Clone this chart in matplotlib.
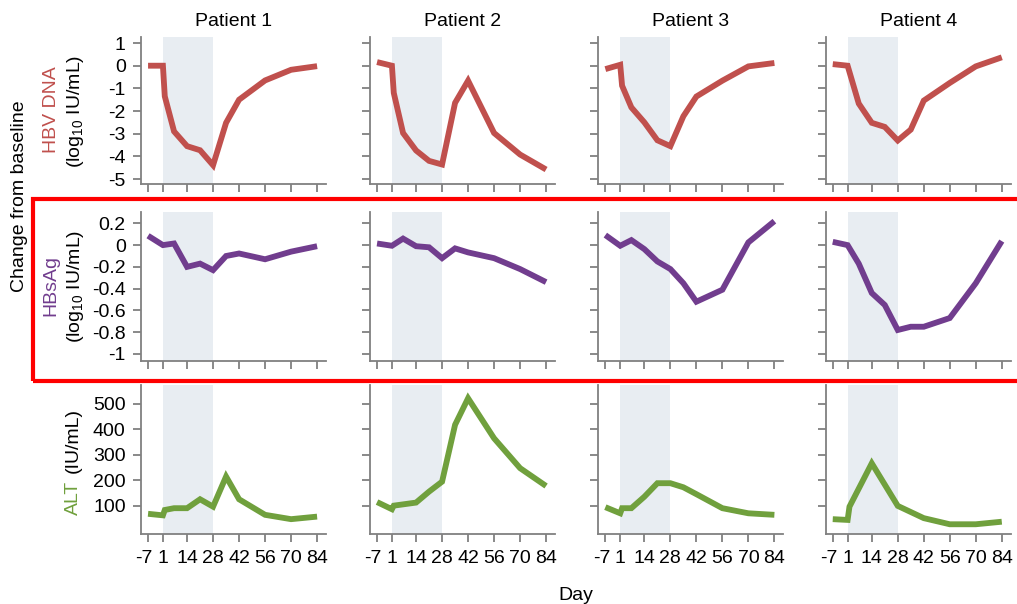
import numpy as np
import pandas as pd
import matplotlib
matplotlib.use("Agg")
import matplotlib.pyplot as plt
import matplotlib.transforms as mtransforms
from matplotlib.patches import Rectangle

plt.rcParams['font.family'] = ['Liberation Sans', 'DejaVu Sans']
plt.rcParams['mathtext.fontset'] = 'custom'
plt.rcParams['mathtext.rm'] = 'Liberation Sans'
plt.rcParams['font.size'] = 14

# Study visits (days); None means no sample at that visit
days = [-7, 1, 2, 7, 14, 21, 28, 35, 42, 56, 70, 84]
patients = ["Patient 1", "Patient 2", "Patient 3", "Patient 4"]

# HBV DNA change from baseline (log10 IU/mL)
hbv_p1 = [0.0, 0.0, -1.35, -2.9, -3.55, -3.73, -4.39, -2.52, -1.5, -0.65, -0.18, -0.02]
hbv_p2 = [0.16, 0.0, -1.2, -2.97, -3.74, -4.2, -4.36, -1.64, -0.66, -2.97, -3.92, -4.58]
hbv_p3 = [-0.15, 0.04, -0.88, -1.84, -2.5, -3.29, -3.55, -2.23, -1.36, -0.66, -0.03, 0.12]
hbv_p4 = [0.07, 0.0, None, -1.67, -2.52, -2.7, -3.3, -2.82, -1.54, -0.76, -0.03, 0.37]

# HBsAg change from baseline (log10 IU/mL)
hbsag_p1 = [0.086, 0.0, None, 0.015, -0.2, -0.17, -0.23, -0.1, -0.077, -0.13, -0.06, -0.01]
hbsag_p2 = [0.015, -0.006, None, 0.06, -0.01, -0.02, -0.12, -0.03, -0.067, -0.12, -0.22, -0.34]
hbsag_p3 = [0.092, -0.006, None, 0.046, -0.037, -0.15, -0.22, -0.35, -0.52, -0.41, 0.025, 0.22]
hbsag_p4 = [0.03, 0.0, None, -0.17, -0.44, -0.55, -0.78, -0.75, -0.75, -0.67, -0.35, 0.037]

# ALT (IU/mL)
alt_p1 = [69, 63, 84, 91, 91, 126, 97, 215, 126, 65, 48, 58]
alt_p2 = [115, 87, 101, None, 113, 156, 195, 418, 522, 365, 248, 178]
alt_p3 = [95, 71, 91, 91, 136, 189, 189, 173, 146, 91, 71, 65]
alt_p4 = [48, 45, 97, None, 267, None, 100, None, 52, 28, 28, 38]

x_ticks = [-7, 1, 14, 28, 42, 56, 70, 84]
hbv_ticks = [1, 0, -1, -2, -3, -4, -5]
hbsag_ticks = [0.2, 0, -0.2, -0.4, -0.6, -0.8, -1]
alt_ticks = [100, 200, 300, 400, 500]

rows = [
    dict(series=[hbv_p1, hbv_p2, hbv_p3, hbv_p4], color="#C0504D",
         ylim=(-5.22, 1.28), ticks=hbv_ticks, fmt=lambda v: "%g" % v, top=36.7, bot=184),
    dict(series=[hbsag_p1, hbsag_p2, hbsag_p3, hbsag_p4], color="#713D8E",
         ylim=(-1.062, 0.307), ticks=hbsag_ticks, fmt=lambda v: "%g" % v, top=211.7, bot=360.7),
    dict(series=[alt_p1, alt_p2, alt_p3, alt_p4], color="#70A03D",
         ylim=(-9, 574), ticks=alt_ticks, fmt=lambda v: "%d" % v, top=385, bot=533.7),
]
col_left = [141, 370, 598.3, 825.7]
W, H = 1017, 604
ax_w = 185
spine_c = "#808080"

fig = plt.figure(figsize=(W / 100, H / 100), dpi=100)

for r, row in enumerate(rows):
    for c in range(4):
        ax = fig.add_axes([col_left[c] / W, 1 - row["bot"] / H, ax_w / W, (row["bot"] - row["top"]) / H])
        ax.axvspan(1, 28, color="#E8EDF2", lw=0, zorder=0)
        s = pd.Series(row["series"][c], index=days, dtype=float).dropna()
        ax.plot(s.index, s.values, color=row["color"], lw=4.2,
                solid_joinstyle="miter", solid_capstyle="butt", zorder=3)
        ax.set_xlim(-10.8, 88.8)
        ax.set_ylim(*row["ylim"])
        for side in ["top", "right"]:
            ax.spines[side].set_visible(False)
        for side in ["left", "bottom"]:
            ax.spines[side].set_color(spine_c)
            ax.spines[side].set_linewidth(1.3)
        ax.tick_params(colors=spine_c, labelcolor="black", length=6, width=1.3, labelsize=14)
        ax.tick_params(axis="x", pad=6)
        ax.tick_params(axis="y", pad=5)
        ax.set_xticks(x_ticks)
        ax.set_yticks(row["ticks"])
        if r == 2:
            ax.set_xticklabels([str(t) for t in x_ticks])
            # nudge "-7" left so it doesn't run into "1"
            lab = ax.get_xticklabels()[0]
            lab.set_transform(lab.get_transform() +
                              mtransforms.ScaledTranslation(-4 / 100, 0, fig.dpi_scale_trans))
        else:
            ax.set_xticklabels([])
        if c == 0:
            ax.set_yticklabels([row["fmt"](t) for t in row["ticks"]])
        else:
            ax.set_yticklabels([])
        if r == 0:
            ax.set_title(patients[c], fontsize=14, pad=8)

# Row labels
def fy(y):
    return 1 - y / H

fig.text(51 / W, fy(110), "HBV DNA", color="#C0504D", rotation=90, ha="center", va="center")
fig.text(75 / W, fy(111), r"(log$_{10}$ IU/mL)", rotation=90, ha="center", va="center")
fig.text(51 / W, fy(286), "HBsAg", color="#713D8E", rotation=90, ha="center", va="center")
fig.text(75 / W, fy(286), r"(log$_{10}$ IU/mL)", rotation=90, ha="center", va="center")
fig.text(73 / W, fy(515), "ALT", color="#70A03D", rotation=90, ha="center", va="bottom")
fig.text(73 / W, fy(473), "(IU/mL)", rotation=90, ha="center", va="bottom")
fig.text(20 / W, fy(196), "Change from baseline", rotation=90, ha="center", va="center")
fig.text(576 / W, fy(596), "Day", ha="center", va="center")

# Highlight box around the HBsAg row
fig.patches.append(Rectangle((33 / W, fy(381)), 1.2, (381 - 199) / H, transform=fig.transFigure,
                             fill=False, edgecolor="#FF0000", lw=3))

fig.savefig("out.png", dpi=100)
